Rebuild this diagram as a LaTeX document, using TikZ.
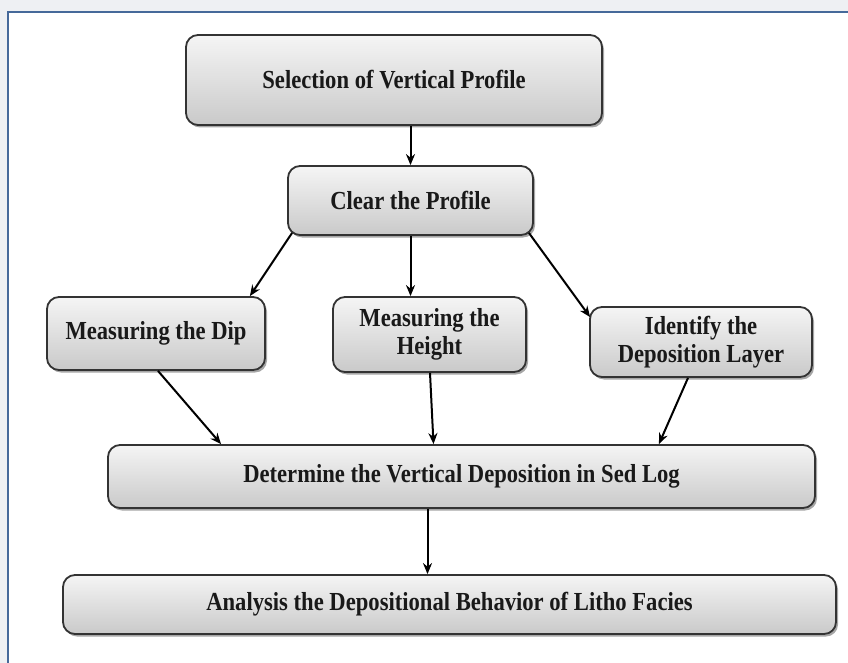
\documentclass[tikz,border=0pt]{standalone}
\usepackage{fontspec}
\setmainfont{Liberation Serif}[FakeStretch=0.87]
\usetikzlibrary{shadows,arrows.meta}
\definecolor{pagebg}{HTML}{EEF0F3}
\definecolor{framec}{HTML}{46699A}
\tikzset{
  box/.style={draw=black!80, line width=1.8pt, rounded corners=12pt,
    top color=gray!8, bottom color=gray!42,
    drop shadow={shadow xshift=2pt, shadow yshift=-2.5pt, opacity=.35, fill=black},
    inner sep=0pt, align=center, text=black!90,
    font=\bfseries\fontsize{26}{28}\selectfont},
  arr/.style={line width=2pt, -{Stealth[length=11pt,width=9pt]}}
}
\begin{document}
\begin{tikzpicture}[x=1pt,y=-1pt]
\useasboundingbox (0,0) rectangle (848,663);
\fill[pagebg] (0,0) rectangle (848,663);
\draw[framec, line width=2.5pt, fill=white] (8,12) rectangle (870,690);

\node[box, minimum width=416pt, minimum height=90pt] (A) at (394,80) {Selection of Vertical Profile};
\node[box, minimum width=245pt, minimum height=69pt] (B) at (410.5,200.5) {Clear the Profile};
\node[box, minimum width=218pt, minimum height=73pt] (C) at (156,333.5) {Measuring the Dip};
\node[box, minimum width=193pt, minimum height=75pt] (D) at (429.5,334.5) {Measuring the\\Height};
\node[box, minimum width=222pt, minimum height=70pt] (E) at (701,342) {Identify the\\Deposition Layer};
\node[box, minimum width=707pt, minimum height=63pt] (F) at (461.5,476.5) {Determine the Vertical Deposition in Sed Log};
\node[box, minimum width=773pt, minimum height=59pt] (G) at (449.5,604.5) {Analysis the Depositional Behavior of Litho Facies};

\draw[arr] (B.north |- A.south) -- (B.north);
\draw[arr] ([xshift=5pt,yshift=3pt]B.south west) -- ([xshift=-16pt]C.north east);
\draw[arr] (B.south) -- (B.south |- D.north);
\draw[arr] ([xshift=-5pt,yshift=3pt]B.south east) -- ([xshift=1pt,yshift=-11pt]E.north west);
\draw[arr] ([xshift=2pt]C.south) -- ([xshift=114pt]F.north west);
\draw[arr] ([xshift=0.5pt]D.south) -- ([xshift=-28pt]F.north);
\draw[arr] ([xshift=-13pt]E.south) -- ([xshift=-157pt]F.north east);
\draw[arr] ([xshift=-34pt]F.south) -- ([xshift=-34pt]F.south |- G.north);
\end{tikzpicture}
\end{document}
